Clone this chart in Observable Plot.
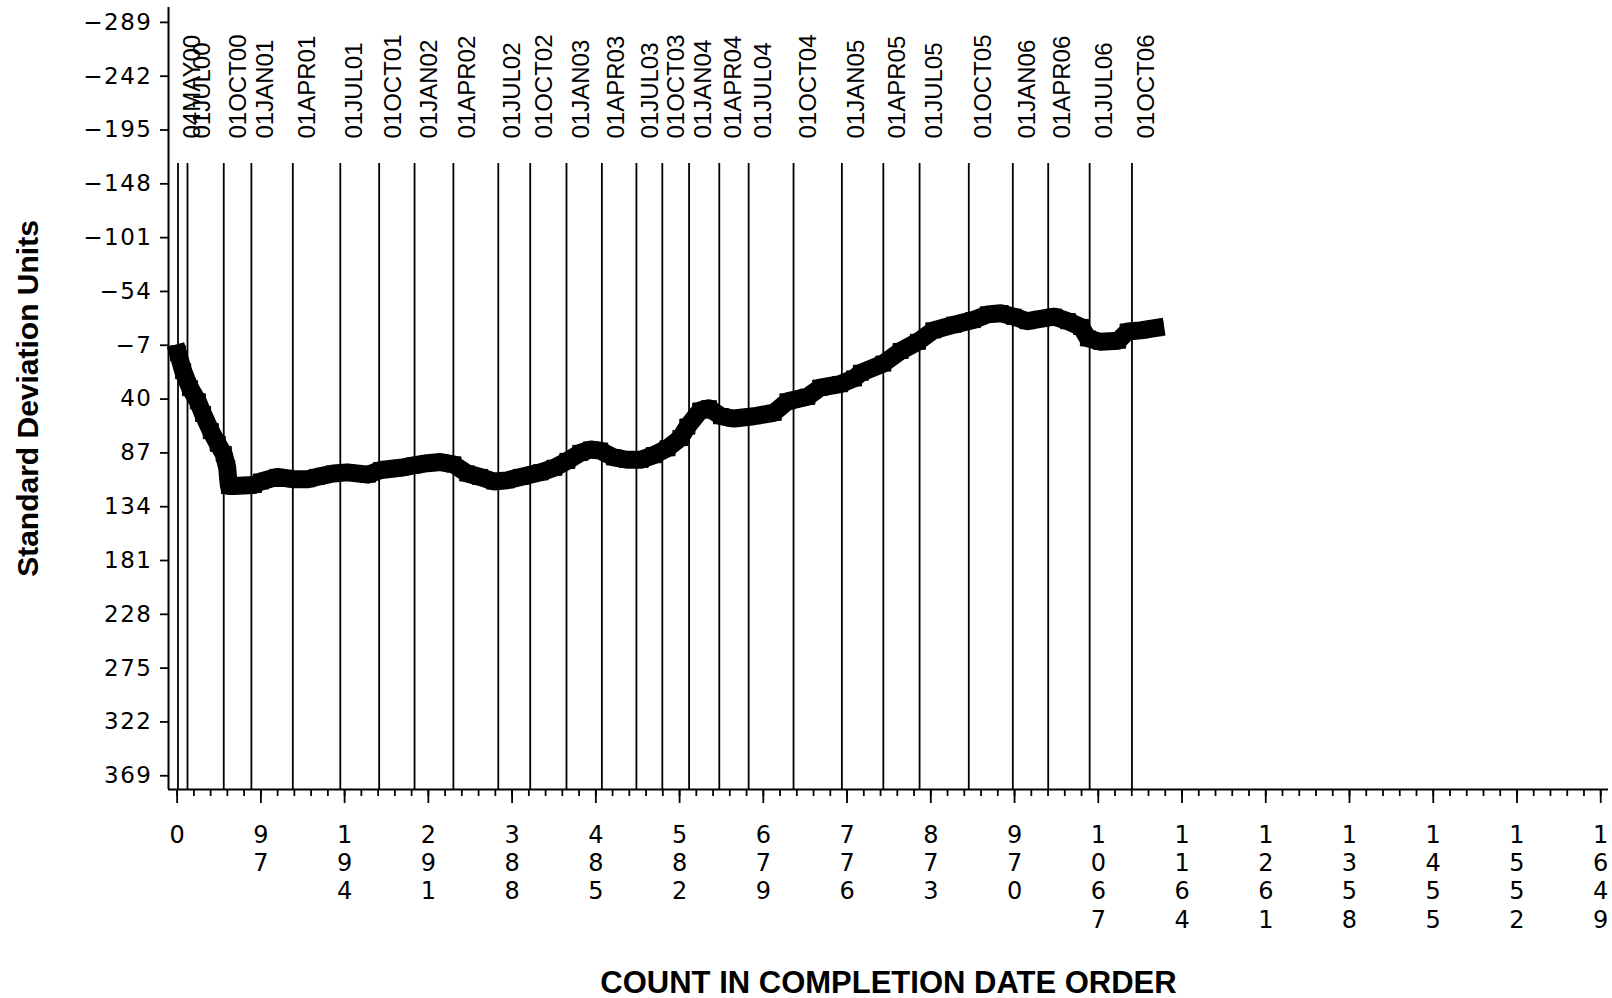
<!DOCTYPE html>
<html>
<head>
<meta charset="utf-8">
<script src="https://cdn.jsdelivr.net/npm/d3@7"></script>
<script src="https://cdn.jsdelivr.net/npm/@observablehq/plot@0.6"></script>
<style>
  html, body { margin: 0; padding: 0; background: #fff; }
  #chart svg [aria-label="y-axis tick label"] text { letter-spacing: 1.5px; }
</style>
</head>
<body>
<div id="chart"></div>
<script>
// ---- data ----
const counts = [1, 7, 15, 24, 30, 39, 47, 54, 58, 59, 60, 65, 89, 97, 116, 135, 151, 162, 181, 197,
  221, 236, 259, 274, 290, 305, 320, 336, 351, 367, 382, 398, 421, 437, 452, 467, 479, 490, 506, 521,
  537, 552, 568, 583, 591, 606, 616, 630, 645, 668, 691, 707, 730, 745, 768, 784, 792, 818, 838, 858,
  876, 900, 922, 939, 954, 969, 985, 1000, 1016, 1032, 1047, 1055, 1070, 1090, 1101, 1116, 1133];
const values = [0, 15.7, 30.5, 42, 53, 68, 79, 88, 100, 109, 116, 116, 115, 112, 108, 110, 110, 108, 105, 104,
  106, 102, 100, 98, 96, 95, 97, 105, 108, 112, 111, 108, 104, 100, 94, 87, 84, 85, 91, 93,
  93, 89, 83, 74, 64, 50, 48, 55, 57, 55, 52, 42, 38, 30, 27, 22, 17, 9, -2, -10,
  -20, -25, -29, -34, -35, -32, -28, -30, -32, -28, -23, -13, -10, -11, -19, -20, -22];

const dateLabels = ["04MAY00", "01JUL00", "01OCT00", "01JAN01", "01APR01", "01JUL01", "01OCT01",
  "01JAN02", "01APR02", "01JUL02", "01OCT02", "01JAN03", "01APR03", "01JUL03", "01OCT03",
  "01JAN04", "01APR04", "01JUL04", "01OCT04", "01JAN05", "01APR05", "01JUL05", "01OCT05",
  "01JAN06", "01APR06", "01JUL06", "01OCT06"];
const dateCounts = [1, 12, 54, 86, 134, 189, 234, 275, 320, 372, 409, 451, 492, 532, 562,
  593, 628, 662, 714, 770, 818, 860, 917, 968, 1009, 1057, 1106];

const yTicks = [-289, -242, -195, -148, -101, -54, -7, 40, 87, 134, 181, 228, 275, 322, 369];
const xTicks = [0, 97, 194, 291, 388, 485, 582, 679, 776, 873, 970, 1067, 1164, 1261, 1358, 1455, 1552, 1649];

const xDomain = [-10, 1658];
const yDomain = [-302, 381];

const series = counts.map((c, i) => ({count: c, value: values[i]}));
const dates = dateLabels.map((d, i) => ({label: d, count: dateCounts[i]}));
const minorTicks = d3.range(0, 1650, 97 / 5).map(v => Math.round(v * 10) / 10);

const chart = Plot.plot({
  width: 1612,
  height: 998,
  marginTop: 7,
  marginBottom: 209,
  marginLeft: 168,
  marginRight: 4,
  style: {background: "#fff", color: "#000", fontFamily: "'DejaVu Sans', sans-serif"},
  x: {domain: xDomain, label: null},
  y: {domain: yDomain, reverse: true, label: null},
  marks: [
    // reference lines at the dates
    Plot.ruleX(dates, {x: "count", insetTop: 156, stroke: "#000", strokeWidth: 1.8}),
    Plot.text(dates, {x: "count", text: "label", frameAnchor: "top", dy: 131, dx: 5,
      rotate: -90, textAnchor: "start", fontSize: 24, fontFamily: "'Liberation Sans', Arial, sans-serif", fill: "#000"}),
    // axis lines
    Plot.ruleX([xDomain[0]], {stroke: "#000", strokeWidth: 2}),
    Plot.ruleY([yDomain[1]], {stroke: "#000", strokeWidth: 2}),
    // axes
    Plot.axisY({ticks: yTicks, tickSize: 8, tickPadding: 8, fontSize: 23, label: null,
      tickFormat: d => d < 0 ? "\u2212" + (-d) : String(d), strokeWidth: 1.8}),
    Plot.axisX(minorTicks, {tickSize: 7, tickFormat: () => "", strokeWidth: 1.8, label: null}),
    Plot.axisX({ticks: xTicks, tickSize: 14, tickPadding: 19, fontSize: 24, lineHeight: 1.18, label: null,
      tickFormat: d => String(d).split("").join("\n"), strokeWidth: 1.8}),
    // data
    Plot.line(series, {x: "count", y: "value", stroke: "#000", strokeWidth: 18,
      strokeLinecap: "square", strokeLinejoin: "round"}),
    Plot.dot(series, {x: "count", y: "value", symbol: "square", r: 8.5, fill: "#000", stroke: "#000", strokeWidth: 1}),
    // axis titles
    Plot.text(["Standard Deviation Units"], {frameAnchor: "left", dx: -140, rotate: -90, textAnchor: "middle",
      fontSize: 30, fontWeight: "bold", fontFamily: "'Liberation Sans', Arial, sans-serif", fill: "#000",
      letterSpacing: -1}),
    Plot.text(["COUNT IN COMPLETION DATE ORDER"], {frameAnchor: "bottom", dy: 203, textAnchor: "middle",
      fontSize: 31, fontWeight: "bold", fontFamily: "'Liberation Sans', Arial, sans-serif", fill: "#000"})
  ]
});
document.getElementById("chart").appendChild(chart);
</script>
</body>
</html>
